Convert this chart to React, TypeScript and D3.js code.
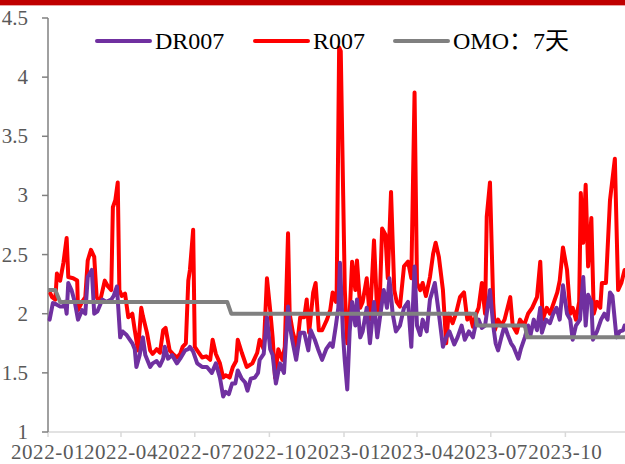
import React from "react";
import * as d3 from "d3";

const yTicks = [1, 1.5, 2, 2.5, 3, 3.5, 4, 4.5];
const xTickDates = ["2022-01-01", "2022-04-01", "2022-07-01", "2022-10-01", "2023-01-01", "2023-04-01", "2023-07-01", "2023-10-01"];
const xTickLabels = ["2022-01", "2022-04", "2022-07", "2022-10", "2023-01", "2023-04", "2023-07", "2023-10"];
const seriesNames = ["DR007", "R007", "OMO：7天"];
const seriesColors = ["#7030A0", "#FF0000", "#808080"];

const r007: [string, number][] = [
  ["2022-01-04", 2.17], ["2022-01-06", 2.14], ["2022-01-10", 2.12], ["2022-01-12", 2.34], ["2022-01-16", 2.28],
  ["2022-01-20", 2.43], ["2022-01-24", 2.64], ["2022-01-26", 2.31], ["2022-02-01", 2.3], ["2022-02-06", 2.28],
  ["2022-02-07", 2.03], ["2022-02-12", 2.1], ["2022-02-16", 2.14], ["2022-02-19", 2.45], ["2022-02-23", 2.54],
  ["2022-02-27", 2.48], ["2022-03-02", 2.14], ["2022-03-06", 2.1], ["2022-03-12", 2.28], ["2022-03-16", 2.23],
  ["2022-03-20", 2.2], ["2022-03-22", 2.9], ["2022-03-25", 2.96], ["2022-03-28", 3.11], ["2022-03-30", 2.2],
  ["2022-04-02", 2.15], ["2022-04-06", 2.17], ["2022-04-10", 1.97], ["2022-04-15", 2.0], ["2022-04-18", 1.86],
  ["2022-04-22", 1.69], ["2022-04-26", 2.05], ["2022-04-28", 1.98], ["2022-05-03", 1.84], ["2022-05-07", 1.69],
  ["2022-05-10", 1.66], ["2022-05-15", 1.7], ["2022-05-19", 1.67], ["2022-05-23", 1.86], ["2022-05-26", 1.88],
  ["2022-05-31", 1.69], ["2022-06-04", 1.66], ["2022-06-09", 1.63], ["2022-06-13", 1.66], ["2022-06-16", 1.72],
  ["2022-06-20", 1.75], ["2022-06-23", 2.28], ["2022-06-25", 2.37], ["2022-06-29", 2.71], ["2022-07-01", 1.72],
  ["2022-07-05", 1.68], ["2022-07-10", 1.63], ["2022-07-15", 1.64], ["2022-07-20", 1.61], ["2022-07-23", 1.78],
  ["2022-07-27", 1.66], ["2022-08-01", 1.58], ["2022-08-05", 1.46], ["2022-08-08", 1.48], ["2022-08-13", 1.46],
  ["2022-08-17", 1.55], ["2022-08-21", 1.6], ["2022-08-23", 1.78], ["2022-08-28", 1.67], ["2022-09-03", 1.55],
  ["2022-09-10", 1.58], ["2022-09-16", 1.67], ["2022-09-19", 1.78], ["2022-09-24", 1.7], ["2022-09-28", 2.3],
  ["2022-10-02", 2.03], ["2022-10-05", 1.8], ["2022-10-08", 1.46], ["2022-10-12", 1.7], ["2022-10-17", 1.61],
  ["2022-10-20", 1.72], ["2022-10-24", 2.68], ["2022-10-26", 2.0], ["2022-10-30", 1.84], ["2022-11-04", 1.72],
  ["2022-11-08", 1.97], ["2022-11-13", 1.97], ["2022-11-16", 2.12], ["2022-11-19", 1.84], ["2022-11-24", 2.18],
  ["2022-11-27", 2.26], ["2022-12-01", 1.86], ["2022-12-05", 1.86], ["2022-12-11", 1.95], ["2022-12-15", 2.03],
  ["2022-12-18", 2.18], ["2022-12-22", 2.1], ["2022-12-23", 2.2], ["2022-12-26", 4.25], ["2022-12-28", 4.22],
  ["2022-12-31", 3.0], ["2023-01-02", 2.2], ["2023-01-05", 1.75], ["2023-01-08", 2.0], ["2023-01-11", 2.44],
  ["2023-01-15", 2.2], ["2023-01-17", 2.45], ["2023-01-21", 2.05], ["2023-01-24", 2.1], ["2023-01-29", 2.3],
  ["2023-02-02", 1.95], ["2023-02-07", 2.62], ["2023-02-11", 2.0], ["2023-02-14", 2.1], ["2023-02-17", 2.72],
  ["2023-02-21", 2.67], ["2023-02-24", 2.3], ["2023-02-28", 3.03], ["2023-03-04", 2.2], ["2023-03-07", 2.1],
  ["2023-03-11", 2.06], ["2023-03-16", 2.4], ["2023-03-21", 2.44], ["2023-03-25", 2.3], ["2023-03-29", 3.87],
  ["2023-04-01", 2.26], ["2023-04-05", 2.2], ["2023-04-08", 2.26], ["2023-04-12", 2.15], ["2023-04-17", 2.31],
  ["2023-04-21", 2.51], ["2023-04-24", 2.6], ["2023-04-28", 2.48], ["2023-05-03", 2.2], ["2023-05-07", 1.75],
  ["2023-05-10", 2.0], ["2023-05-15", 1.92], ["2023-05-19", 2.0], ["2023-05-24", 2.14], ["2023-05-29", 2.18],
  ["2023-06-02", 1.95], ["2023-06-05", 2.0], ["2023-06-09", 1.89], ["2023-06-13", 2.0], ["2023-06-16", 2.05],
  ["2023-06-20", 2.26], ["2023-06-24", 2.0], ["2023-06-26", 2.82], ["2023-06-30", 3.11], ["2023-07-04", 2.09],
  ["2023-07-06", 1.86], ["2023-07-10", 1.95], ["2023-07-14", 1.9], ["2023-07-18", 1.95], ["2023-07-25", 2.14],
  ["2023-07-28", 1.9], ["2023-08-02", 1.84], ["2023-08-06", 1.95], ["2023-08-11", 1.9], ["2023-08-16", 2.0],
  ["2023-08-21", 2.05], ["2023-08-27", 2.14], ["2023-08-31", 2.44], ["2023-09-03", 1.95], ["2023-09-08", 2.05],
  ["2023-09-12", 2.0], ["2023-09-17", 2.1], ["2023-09-21", 2.18], ["2023-09-24", 2.28], ["2023-09-28", 2.56],
  ["2023-10-03", 2.37], ["2023-10-07", 2.0], ["2023-10-10", 2.05], ["2023-10-14", 1.95], ["2023-10-18", 2.1],
  ["2023-10-20", 3.02], ["2023-10-23", 2.6], ["2023-10-26", 3.09], ["2023-10-29", 2.4], ["2023-11-02", 2.81],
  ["2023-11-05", 2.0], ["2023-11-09", 2.1], ["2023-11-13", 2.05], ["2023-11-15", 2.26], ["2023-11-20", 2.26],
  ["2023-11-25", 2.96], ["2023-12-01", 3.31], ["2023-12-05", 2.2], ["2023-12-09", 2.26], ["2023-12-13", 2.37],
];

const dr007: [string, number][] = [
  ["2022-01-03", 1.95], ["2022-01-07", 2.09], ["2022-01-11", 2.08], ["2022-01-16", 2.06], ["2022-01-20", 2.06],
  ["2022-01-22", 2.1], ["2022-01-24", 2.0], ["2022-01-26", 2.26], ["2022-01-30", 2.2], ["2022-02-03", 2.1],
  ["2022-02-07", 1.95], ["2022-02-12", 2.03], ["2022-02-16", 2.0], ["2022-02-19", 2.31], ["2022-02-24", 2.37],
  ["2022-02-27", 2.0], ["2022-03-03", 2.02], ["2022-03-09", 2.12], ["2022-03-14", 2.1], ["2022-03-20", 2.12],
  ["2022-03-23", 2.15], ["2022-03-27", 2.23], ["2022-03-31", 1.8], ["2022-04-03", 1.85], ["2022-04-08", 1.82],
  ["2022-04-15", 1.75], ["2022-04-18", 1.7], ["2022-04-20", 1.55], ["2022-04-24", 1.65], ["2022-04-28", 1.8],
  ["2022-05-01", 1.65], ["2022-05-07", 1.55], ["2022-05-10", 1.58], ["2022-05-15", 1.6], ["2022-05-19", 1.56],
  ["2022-05-23", 1.62], ["2022-05-25", 1.72], ["2022-05-29", 1.62], ["2022-06-03", 1.65], ["2022-06-09", 1.58],
  ["2022-06-13", 1.62], ["2022-06-19", 1.69], ["2022-06-23", 1.7], ["2022-06-25", 1.72], ["2022-06-29", 1.68],
  ["2022-07-04", 1.58], ["2022-07-10", 1.55], ["2022-07-16", 1.55], ["2022-07-22", 1.5], ["2022-07-27", 1.58],
  ["2022-08-01", 1.46], ["2022-08-05", 1.3], ["2022-08-08", 1.34], ["2022-08-12", 1.32], ["2022-08-16", 1.41],
  ["2022-08-20", 1.41], ["2022-08-23", 1.52], ["2022-08-28", 1.45], ["2022-09-01", 1.42], ["2022-09-04", 1.35],
  ["2022-09-08", 1.45], ["2022-09-13", 1.46], ["2022-09-17", 1.5], ["2022-09-19", 1.61], ["2022-09-24", 1.66],
  ["2022-09-28", 1.97], ["2022-10-02", 1.7], ["2022-10-05", 1.65], ["2022-10-09", 1.41], ["2022-10-14", 1.58],
  ["2022-10-19", 1.5], ["2022-10-24", 2.06], ["2022-10-26", 1.9], ["2022-10-30", 1.75], ["2022-11-03", 1.61],
  ["2022-11-08", 1.84], ["2022-11-13", 1.84], ["2022-11-18", 1.69], ["2022-11-21", 1.86], ["2022-11-26", 1.78],
  ["2022-11-30", 1.7], ["2022-12-05", 1.61], ["2022-12-10", 1.7], ["2022-12-15", 1.75], ["2022-12-18", 1.72],
  ["2022-12-22", 1.9], ["2022-12-25", 2.05], ["2022-12-27", 2.43], ["2022-12-31", 1.8], ["2023-01-02", 1.6],
  ["2023-01-05", 1.36], ["2023-01-08", 1.85], ["2023-01-11", 2.1], ["2023-01-15", 1.9], ["2023-01-17", 2.12],
  ["2023-01-21", 1.8], ["2023-01-24", 1.85], ["2023-01-29", 2.05], ["2023-02-02", 1.75], ["2023-02-07", 2.1],
  ["2023-02-11", 1.8], ["2023-02-14", 1.95], ["2023-02-19", 2.2], ["2023-02-23", 2.05], ["2023-02-26", 2.3],
  ["2023-03-02", 2.0], ["2023-03-06", 1.85], ["2023-03-11", 1.9], ["2023-03-16", 2.05], ["2023-03-21", 2.1],
  ["2023-03-25", 1.72], ["2023-03-29", 2.4], ["2023-04-01", 1.9], ["2023-04-05", 1.82], ["2023-04-08", 1.95],
  ["2023-04-13", 1.85], ["2023-04-17", 2.12], ["2023-04-23", 2.26], ["2023-04-28", 2.0], ["2023-05-03", 1.72],
  ["2023-05-07", 1.8], ["2023-05-11", 1.85], ["2023-05-17", 1.74], ["2023-05-21", 1.8], ["2023-05-26", 1.9],
  ["2023-05-30", 1.78], ["2023-06-04", 1.85], ["2023-06-09", 1.8], ["2023-06-13", 1.93], ["2023-06-16", 1.95],
  ["2023-06-20", 1.88], ["2023-06-24", 1.9], ["2023-06-30", 2.2], ["2023-07-04", 1.9], ["2023-07-07", 1.75],
  ["2023-07-10", 1.69], ["2023-07-14", 1.8], ["2023-07-18", 1.9], ["2023-07-22", 1.82], ["2023-07-26", 1.75],
  ["2023-07-29", 1.72], ["2023-08-04", 1.62], ["2023-08-07", 1.7], ["2023-08-12", 1.8], ["2023-08-16", 1.9],
  ["2023-08-19", 1.82], ["2023-08-23", 1.95], ["2023-08-27", 1.86], ["2023-08-31", 2.05], ["2023-09-02", 1.84],
  ["2023-09-07", 1.95], ["2023-09-12", 1.92], ["2023-09-16", 2.0], ["2023-09-20", 2.05], ["2023-09-24", 1.95],
  ["2023-09-28", 2.24], ["2023-10-03", 2.0], ["2023-10-07", 1.95], ["2023-10-10", 1.78], ["2023-10-14", 1.9],
  ["2023-10-19", 1.95], ["2023-10-23", 2.31], ["2023-10-26", 1.9], ["2023-10-29", 2.16], ["2023-11-02", 2.1],
  ["2023-11-04", 1.78], ["2023-11-09", 1.85], ["2023-11-14", 1.95], ["2023-11-18", 2.0], ["2023-11-22", 1.95],
  ["2023-11-25", 2.18], ["2023-11-28", 2.15], ["2023-12-03", 1.8], ["2023-12-07", 1.85], ["2023-12-11", 1.86],
  ["2023-12-13", 1.9],
];

const omo7d: [string, number][] = [
  ["2022-01-01", 2.2], ["2022-01-10", 2.2], ["2022-01-16", 2.1], ["2022-08-10", 2.1], ["2022-08-15", 2.0],
  ["2023-06-12", 2.0], ["2023-06-14", 1.9], ["2023-08-12", 1.9], ["2023-08-15", 1.8], ["2023-12-31", 1.8],
];

const W = 625;
const H = 464;
const parse = d3.timeParse("%Y-%m-%d");

export default function App() {
  const x = d3.scaleTime().domain([parse("2022-01-01")!, parse("2024-01-01")!]).range([48, 640]);
  const y = d3.scaleLinear().domain([1, 4.5]).range([432, 18]);
  const line = d3
    .line<[string, number]>()
    .x((d) => x(parse(d[0])!))
    .y((d) => y(d[1]));

  const legendItems = [
    { name: seriesNames[0], color: seriesColors[0], lx: 97, tx: 155 },
    { name: seriesNames[1], color: seriesColors[1], lx: 255, tx: 313 },
    { name: seriesNames[2], color: seriesColors[2], lx: 395, tx: 453 },
  ];

  return (
    <svg width={W} height={H} style={{ position: "absolute", left: 0, top: 0, background: "#fff" }}>
      <rect x={0} y={0} width={W} height={H} fill="#ffffff" />
      <rect x={0} y={0} width={W} height={5} fill="#C00000" />
      <line x1={0} x2={W} y1={5.5} y2={5.5} stroke="#E9A3A3" strokeWidth={1} />
      {/* x axis */}
      <line x1={48} x2={W} y1={y(1)} y2={y(1)} stroke="#D9D9D9" strokeWidth={1.5} />
      {xTickDates.map((d, i) => {
        const px = x(parse(d)!);
        return (
          <g key={d}>
            <line x1={px} x2={px} y1={y(1)} y2={y(1) + 5} stroke="#D9D9D9" strokeWidth={1.5} />
            <text x={px} y={459} textAnchor="middle" fontFamily="Liberation Serif" fontSize={21} letterSpacing={0.6} fill="#595959">
              {xTickLabels[i]}
            </text>
          </g>
        );
      })}
      {/* y axis */}
      <line x1={48} x2={48} y1={y(4.5)} y2={y(1)} stroke="#808080" strokeWidth={1.5} />
      {yTicks.map((t) => (
        <g key={t}>
          <line x1={42} x2={48} y1={y(t)} y2={y(t)} stroke="#808080" strokeWidth={1.5} />
          <text x={28} y={y(t) + 7} textAnchor="end" fontFamily="Liberation Serif" fontSize={21} fill="#595959">
            {t}
          </text>
        </g>
      ))}
      <path d={line(r007)!} fill="none" stroke={seriesColors[1]} strokeWidth={4} strokeLinejoin="round" strokeLinecap="round" />
      <path d={line(dr007)!} fill="none" stroke={seriesColors[0]} strokeWidth={4} strokeLinejoin="round" strokeLinecap="round" />
      <path d={line(omo7d)!} fill="none" stroke={seriesColors[2]} strokeWidth={4} strokeLinejoin="round" />
      {legendItems.map((it) => (
        <g key={it.name}>
          <line x1={it.lx} x2={it.lx + 53} y1={41} y2={41} stroke={it.color} strokeWidth={4} strokeLinecap="round" />
          <text x={it.tx} y={49} fontFamily="Liberation Serif, Noto Sans CJK SC" fontSize={24} fill="#000">
            {it.name}
          </text>
        </g>
      ))}
    </svg>
  );
}
